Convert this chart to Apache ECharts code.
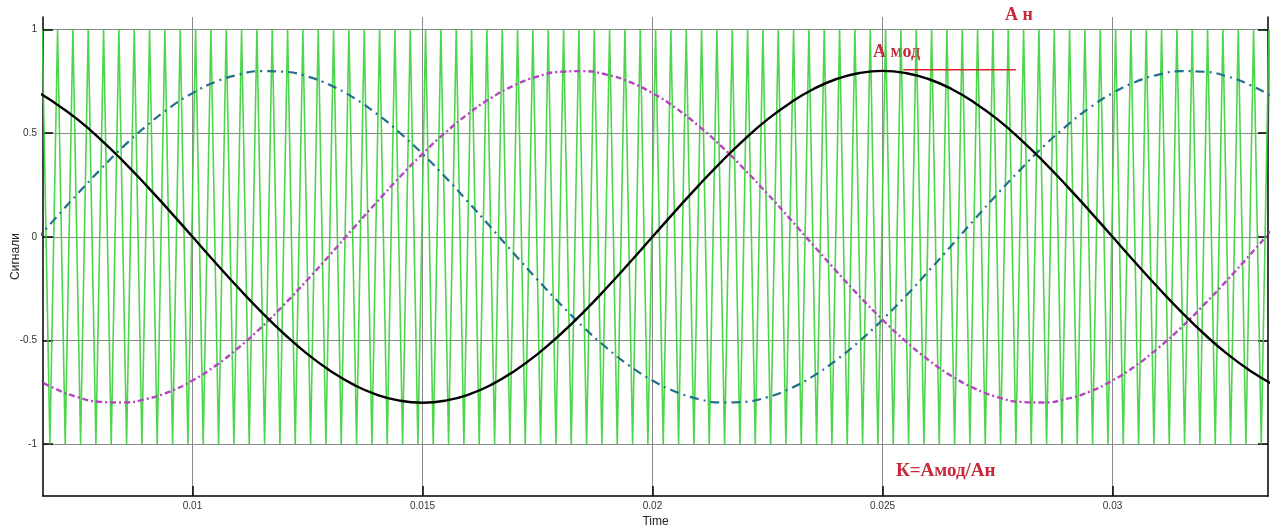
<!DOCTYPE html>
<html>
<head>
<meta charset="utf-8">
<script src="https://cdn.jsdelivr.net/npm/echarts@6/dist/echarts.min.js"></script>
<style>
  html, body { margin: 0; padding: 0; background: #fff; }
  #chart { width: 1270px; height: 531px; }
</style>
</head>
<body>
<div id="chart"></div>
<script>
// sample times of the modulating signals, ms
const timeMs = [6, 6.5, 7, 7.5, 8, 8.5, 9, 9.5, 10, 10.5, 11, 11.5, 12, 12.5,
  13, 13.5, 14, 14.5, 15, 15.5, 16, 16.5, 17, 17.5, 18, 18.5, 19, 19.5,
  20, 20.5, 21, 21.5, 22, 22.5, 23, 23.5, 24, 24.5, 25, 25.5, 26, 26.5,
  27, 27.5, 28, 28.5, 29, 29.5, 30, 30.5, 31, 31.5, 32, 32.5, 33, 33.5, 34]

// three phase signals
const phaseBlack = [0.761, 0.713, 0.647, 0.566, 0.47, 0.363, 0.247, 0.125, 0, -0.125,
  -0.247, -0.363, -0.47, -0.566, -0.647, -0.713, -0.761, -0.79, -0.8, -0.79,
  -0.761, -0.713, -0.647, -0.566, -0.47, -0.363, -0.247, -0.125, 0, 0.125,
  0.247, 0.363, 0.47, 0.566, 0.647, 0.713, 0.761, 0.79, 0.8, 0.79,
  0.761, 0.713, 0.647, 0.566, 0.47, 0.363, 0.247, 0.125, 0, -0.125,
  -0.247, -0.363, -0.47, -0.566, -0.647, -0.713, -0.761]
const phaseBlue = [-0.166, -0.042, 0.084, 0.207, 0.325, 0.436, 0.535, 0.622, 0.693, 0.747,
  0.782, 0.799, 0.796, 0.773, 0.731, 0.671, 0.594, 0.503, 0.4, 0.287,
  0.166, 0.042, -0.084, -0.207, -0.325, -0.436, -0.535, -0.622, -0.693, -0.747,
  -0.782, -0.799, -0.796, -0.773, -0.731, -0.671, -0.594, -0.503, -0.4, -0.287,
  -0.166, -0.042, 0.084, 0.207, 0.325, 0.436, 0.535, 0.622, 0.693, 0.747,
  0.782, 0.799, 0.796, 0.773, 0.731, 0.671, 0.594]
const phaseMagenta = [-0.594, -0.671, -0.731, -0.773, -0.796, -0.799, -0.782, -0.747, -0.693, -0.622,
  -0.535, -0.436, -0.325, -0.207, -0.084, 0.042, 0.166, 0.287, 0.4, 0.503,
  0.594, 0.671, 0.731, 0.773, 0.796, 0.799, 0.782, 0.747, 0.693, 0.622,
  0.535, 0.436, 0.325, 0.207, 0.084, -0.042, -0.166, -0.287, -0.4, -0.503,
  -0.594, -0.671, -0.731, -0.773, -0.796, -0.799, -0.782, -0.747, -0.693, -0.622,
  -0.535, -0.436, -0.325, -0.207, -0.084, 0.042, 0.166]

// triangle carrier: times of its tops (+1) and bottoms (-1), ms
const carrierPeakMs = [6.733,
  7.067, 7.4, 7.733, 8.067, 8.4, 8.733, 9.067, 9.4, 9.733,
  10.067, 10.4, 10.733, 11.067, 11.4, 11.733, 12.067, 12.4, 12.733,
  13.067, 13.4, 13.733, 14.067, 14.4, 14.733, 15.067, 15.4, 15.733,
  16.067, 16.4, 16.733, 17.067, 17.4, 17.733, 18.067, 18.4, 18.733,
  19.067, 19.4, 19.733, 20.067, 20.4, 20.733, 21.067, 21.4, 21.733,
  22.067, 22.4, 22.733, 23.067, 23.4, 23.733, 24.067, 24.4, 24.733,
  25.067, 25.4, 25.733, 26.067, 26.4, 26.733, 27.067, 27.4, 27.733,
  28.067, 28.4, 28.733, 29.067, 29.4, 29.733, 30.067, 30.4, 30.733,
  31.067, 31.4, 31.733, 32.067, 32.4, 32.733, 33.067, 33.4]
const carrierTroughMs = [6.9,
  7.233, 7.567, 7.9, 8.233, 8.567, 8.9, 9.233, 9.567, 9.9,
  10.233, 10.567, 10.9, 11.233, 11.567, 11.9, 12.233, 12.567, 12.9,
  13.233, 13.567, 13.9, 14.233, 14.567, 14.9, 15.233, 15.567, 15.9,
  16.233, 16.567, 16.9, 17.233, 17.567, 17.9, 18.233, 18.567, 18.9,
  19.233, 19.567, 19.9, 20.233, 20.567, 20.9, 21.233, 21.567, 21.9,
  22.233, 22.567, 22.9, 23.233, 23.567, 23.9, 24.233, 24.567, 24.9,
  25.233, 25.567, 25.9, 26.233, 26.567, 26.9, 27.233, 27.567, 27.9,
  28.233, 28.567, 28.9, 29.233, 29.567, 29.9, 30.233, 30.567, 30.9,
  31.233, 31.567, 31.9, 32.233, 32.567, 32.9, 33.233, 33.567]
const carrierTop = 1
const carrierBottom = -1

// axis ticks
const xTicks = [0.01, 0.015, 0.02, 0.025, 0.03]
const yTicks = [-1, -0.5, 0, 0.5, 1]
const xMin = 0.00675
const xMax = 0.03338
const yMin = -1.25
const yMax = 1.06

function pairs(values) {
  return timeMs.map((t, i) => [t / 1000, values[i]])
}

let carrier = []
carrierPeakMs.forEach((t, i) => {
  carrier.push([t / 1000, carrierTop])
  if (i < carrierTroughMs.length) carrier.push([carrierTroughMs[i] / 1000, carrierBottom])
})

const red = '#c8283a'
const serif = '"Liberation Serif", "DejaVu Serif", serif'
const sans = '"Liberation Sans", Arial, sans-serif'
const gridLine = { show: true, lineStyle: { color: '#8a8a8a', width: 1 } }
const tick = { show: true, inside: true, length: 10, lineStyle: { color: '#000', width: 1.5 } }

let myChart = echarts.init(document.getElementById('chart'))
myChart.setOption({
  animation: false,
  grid: {
    left: 43,
    right: 2,
    top: 17,
    bottom: 35,
    outerBoundsMode: 'none'
  },
  xAxis: {
    type: 'value',
    min: xMin,
    max: xMax,
    name: 'Time',
    nameLocation: 'middle',
    nameGap: 20,
    nameMoveOverlap: false,
    nameTextStyle: { color: '#222', fontSize: 12, fontFamily: sans },
    axisLine: { onZero: false, lineStyle: { color: '#000', width: 1.5 } },
    axisTick: Object.assign({ customValues: xTicks }, tick),
    axisLabel: {
      customValues: xTicks,
      color: '#333',
      fontSize: 10,
      fontFamily: sans,
      margin: 5
    },
    splitLine: gridLine
  },
  yAxis: [{
    type: 'value',
    min: yMin,
    max: yMax,
    name: 'Сигнали',
    nameLocation: 'middle',
    nameGap: 21,
    nameMoveOverlap: false,
    nameTextStyle: { color: '#222', fontSize: 12, fontFamily: sans },
    axisLine: { show: true, onZero: false, lineStyle: { color: '#000', width: 1.5 } },
    axisTick: Object.assign({ customValues: yTicks }, tick),
    axisLabel: {
      customValues: yTicks,
      color: '#333',
      fontSize: 10,
      fontFamily: sans,
      margin: 6
    },
    splitLine: gridLine
  }, {
    type: 'value',
    position: 'right',
    min: yMin,
    max: yMax,
    axisLine: { show: true, onZero: false, lineStyle: { color: '#000', width: 1.5 } },
    axisTick: Object.assign({ customValues: yTicks }, tick),
    axisLabel: { show: false },
    splitLine: { show: false }
  }],
  series: [{
    type: 'line',
    name: 'carrier',
    data: carrier,
    symbol: 'none',
    z: 1,
    lineStyle: { color: '#3ad03a', width: 1.6, opacity: 0.9 }
  }, {
    type: 'line',
    name: 'phase C',
    data: pairs(phaseBlue),
    smooth: true,
    symbol: 'none',
    z: 3,
    lineStyle: { color: '#22708c', width: 2.2, type: [9, 5, 2, 5] }
  }, {
    type: 'line',
    name: 'phase B',
    data: pairs(phaseMagenta),
    smooth: true,
    symbol: 'none',
    z: 3,
    lineStyle: { color: '#b545c0', width: 2.4, type: [6, 3, 2, 3] }
  }, {
    type: 'line',
    name: 'phase A',
    data: pairs(phaseBlack),
    smooth: true,
    symbol: 'none',
    z: 4,
    lineStyle: { color: '#000', width: 2.4 }
  }]
})

// red marker line at the modulating amplitude, placed through the axes
let p1 = myChart.convertToPixel({ gridIndex: 0 }, [0.02545, 0.8])
let p2 = myChart.convertToPixel({ gridIndex: 0 }, [0.0279, 0.8])
let ly = Math.round(p1[1]) - 2

myChart.setOption({
  graphic: [{
    type: 'rect',
    shape: { x: p1[0], y: ly, width: p2[0] - p1[0], height: 1.5 },
    style: { fill: '#e0222a' },
    z: 10
  }, {
    type: 'text',
    left: 1005,
    top: 6,
    style: { text: 'А н', fill: red, font: 'bold 18px ' + serif }
  }, {
    type: 'text',
    left: 873,
    top: 43,
    style: { text: 'А мод', fill: red, font: 'bold 18px ' + serif }
  }, {
    type: 'text',
    left: 896,
    top: 462,
    style: { text: 'К=Амод/Ан', fill: red, font: 'bold 19px ' + serif }
  }]
})
</script>
</body>
</html>
